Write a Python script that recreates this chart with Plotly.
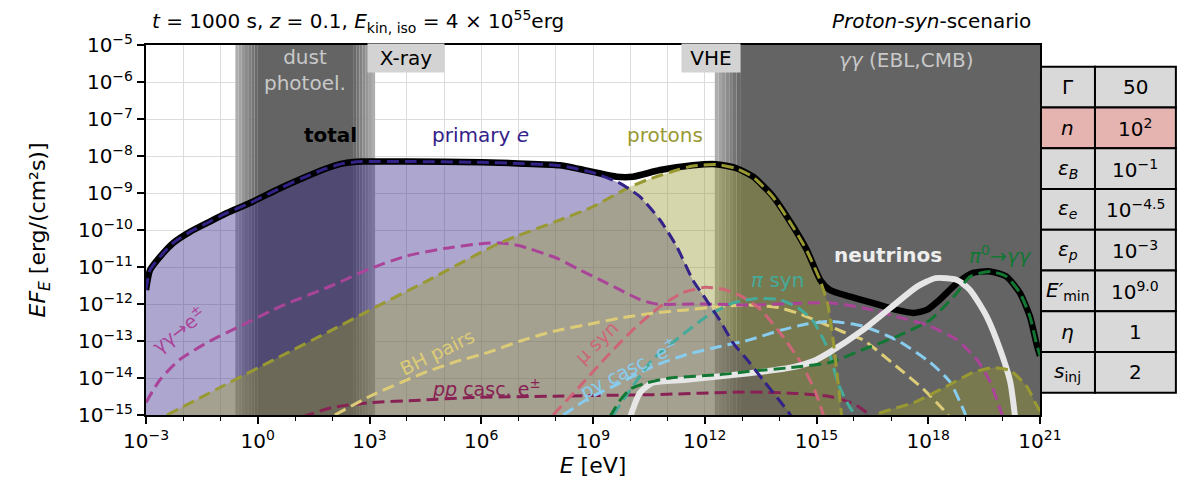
import numpy as np
import plotly.graph_objects as go

# ---------------- data (log10 E [eV], log10 EF_E [erg/cm2/s]) ----------------
total_logE = [-3.0, -2.89, -2.62, -2.27, -1.82, -1.36, -0.83, -0.21, 0.6, 1.2, 1.8, 2.3, 2.8, 4.0, 6.0, 7.0,
              8.11, 9.0, 9.64, 10.07, 10.8, 11.68, 12.3, 12.85, 13.3, 13.84, 14.37, 14.74, 15.1, 15.36, 15.9,
              16.5, 17.15, 17.6, 17.96, 18.3, 18.77, 19.2, 19.66, 20.1, 20.46, 20.73, 20.9, 21.0]
total_logF = [-11.62, -11.08, -10.72, -10.35, -10.05, -9.81, -9.54, -9.27, -8.87, -8.6, -8.35, -8.2, -8.15, -8.15,
              -8.17, -8.2, -8.25, -8.43, -8.56, -8.56, -8.38, -8.25, -8.22, -8.33, -8.56, -9.1, -9.9, -10.54,
              -11.35, -11.62, -11.8, -11.97, -12.16, -12.24, -12.16, -11.89, -11.44, -11.16, -11.12, -11.26,
              -11.7, -12.34, -13.05, -13.4]

primary_logE = [-3.0, -2.89, -2.62, -2.27, -1.82, -1.36, -0.83, -0.21, 0.6, 1.2, 1.8, 2.3, 2.8, 4.0, 6.0, 7.0,
                8.11, 9.0, 9.73, 10.26, 10.8, 11.25, 11.68, 12.05, 12.4, 12.76, 13.2, 13.6, 14.0, 14.3, 14.5]
primary_logF = [-11.62, -11.08, -10.72, -10.35, -10.05, -9.81, -9.54, -9.27, -8.87, -8.6, -8.35, -8.2, -8.15,
                -8.15, -8.17, -8.2, -8.26, -8.45, -8.74, -9.1, -9.73, -10.45, -11.35, -11.9, -12.43, -13.05,
                -13.58, -14.1, -14.6, -15.0, -15.4]

protons_logE = [-2.44, -1.0, 0.6, 2.0, 3.0, 4.5, 6.5, 8.11, 9.0, 9.9, 10.44, 11.07, 11.68, 12.3, 12.85, 13.3,
                13.84, 14.37, 14.74, 15.1, 15.3, 15.45, 15.6, 15.75, 16.1, 16.5, 17.0, 17.6, 18.5, 19.2, 19.74,
                20.2, 20.64, 20.87, 21.0]
protons_logF = [-15.0, -14.25, -13.42, -12.7, -12.17, -11.4, -10.35, -9.73, -9.37, -8.88, -8.65, -8.44, -8.27,
                -8.23, -8.34, -8.57, -9.12, -9.92, -10.56, -11.37, -12.0, -13.0, -14.3, -15.5, -16.2, -15.05,
                -14.85, -14.67, -14.22, -13.85, -13.72, -13.8, -14.22, -14.66, -14.9]

gg_logE = [-3.0, -2.62, -2.09, -1.37, -0.48, 0.6, 2.0, 3.0, 4.0, 5.0, 6.0, 6.5, 7.0, 8.0, 8.65, 9.3, 9.73, 10.26,
           10.7, 12.0, 13.2, 14.5, 15.36, 16.25, 17.15, 18.05, 18.77, 19.3, 19.66, 19.93, 20.05]
gg_logF = [-14.66, -14.04, -13.5, -13.05, -12.6, -12.07, -11.5, -11.05, -10.7, -10.5, -10.37, -10.35, -10.42,
           -10.75, -11.08, -11.4, -11.62, -11.88, -12.0, -12.0, -12.03, -11.98, -11.97, -12.1, -12.34, -12.6,
           -12.97, -13.5, -14.1, -14.85, -15.2]

bh_logE = [2.07, 3.0, 4.36, 5.25, 6.15, 7.05, 7.93, 8.83, 9.73, 10.6, 11.5, 12.4, 13.2, 14.0, 14.5, 15.0, 15.7,
           16.25, 17.15, 17.87, 18.4, 18.6]
bh_logF = [-15.0, -14.5, -13.9, -13.58, -13.32, -13.0, -12.74, -12.56, -12.38, -12.25, -12.16, -12.07, -12.03,
           -12.1, -12.25, -12.45, -12.75, -12.97, -13.69, -14.3, -14.85, -15.1]

pp_logE = [1.2, 2.0, 3.0, 4.36, 5.7, 7.93, 10.6, 13.2, 14.5, 15.36, 16.0, 16.5]
pp_logF = [-15.05, -14.8, -14.67, -14.6, -14.53, -14.49, -14.45, -14.38, -14.42, -14.5, -14.7, -15.05]

musyn_logE = [7.93, 8.65, 9.37, 10.07, 10.8, 11.4, 12.0, 12.5, 13.0, 13.5, 14.0, 14.56, 14.96, 15.2]
musyn_logF = [-15.0, -14.22, -13.42, -12.7, -12.07, -11.7, -11.55, -11.6, -11.8, -12.15, -12.75, -13.55, -14.35,
              -15.05]

pisyn_logE = [9.54, 10.07, 10.6, 11.34, 12.05, 12.76, 13.4, 14.0, 14.5, 14.9, 15.3, 15.6, 15.9, 16.08]
pisyn_logF = [-15.0, -14.22, -13.5, -12.88, -12.34, -11.97, -11.85, -11.88, -12.1, -12.45, -13.2, -14.2, -14.8,
              -15.05]

pgamma_logE = [8.2, 8.83, 9.73, 10.6, 11.5, 12.4, 13.2, 14.0, 14.7, 15.36, 16.25, 17.15, 18.05, 18.58, 18.94,
               19.02]
pgamma_logF = [-15.0, -14.58, -14.13, -13.69, -13.37, -13.15, -12.97, -12.72, -12.55, -12.47, -12.6, -12.97,
               -13.58, -14.1, -14.85, -15.05]

pi0_logE = [9.45, 9.73, 10.0, 10.44, 11.07, 12.4, 13.2, 14.3, 15.36, 16.25, 17.15, 18.05, 18.77, 19.12, 19.66,
            20.1, 20.46, 20.73, 20.9, 21.0]
pi0_logF = [-15.05, -14.6, -14.3, -14.13, -14.0, -13.91, -13.82, -13.72, -13.58, -13.23, -12.88, -12.43, -11.7,
            -11.26, -11.12, -11.26, -11.7, -12.34, -13.05, -13.4]

nu_logE = [10.0, 10.26, 10.6, 11.5, 13.2, 14.3, 14.9, 15.36, 16.25, 17.15, 17.7, 18.2, 18.77, 19.12, 19.57,
           19.93, 20.2, 20.33]
nu_logF = [-15.05, -14.4, -14.13, -14.05, -13.87, -13.72, -13.55, -13.3, -12.7, -11.97, -11.53, -11.3, -11.35,
           -11.62, -12.34, -13.23, -14.1, -15.05]

# shaded bands (log10 E edges) and their soft-edge widths
dust_band = [0.0, 2.56]
dust_fade = [0.6, 0.59]
gamma_band = [12.95, 21.0]
gamma_fade = 0.68

x_tick_exp = list(range(-3, 22, 3))
y_tick_exp = list(range(-15, -4))

param_labels = ["Γ", "<i>n</i>", "<i>ε</i><sub><i>B</i></sub>", "<i>ε</i><sub><i>e</i></sub>",
                "<i>ε</i><sub><i>p</i></sub>", "<i>E′</i><sub>min</sub>", "<i>η</i>", "<i>s</i><sub>inj</sub>"]
param_values = ["50", "10<sup>2</sup>", "10<sup>−1</sup>", "10<sup>−4.5</sup>", "10<sup>−3</sup>",
                "10<sup>9.0</sup>", "1", "2"]
param_highlight = [False, True, False, False, False, False, False, False]

# ---------------- helpers ----------------
FLOOR = 1e-17
CEIL = 1e-3
FONT = "DejaVu Sans"


def lin(v):
    return [10.0 ** a for a in v]


def hexmix(c1, c2, t):
    a = [int(c1[i:i + 2], 16) for i in (1, 3, 5)]
    b = [int(c2[i:i + 2], 16) for i in (1, 3, 5)]
    return "#%02x%02x%02x" % tuple(int(round(a[k] + (b[k] - a[k]) * t)) for k in range(3))


fig = go.Figure()

CORE = "#646464"
EDGE = "#b4b4b4"
NSTEP = 7


def band(x0, x1, color):
    fig.add_trace(go.Scatter(x=lin([x0, x1, x1, x0, x0]), y=[FLOOR, FLOOR, CEIL, CEIL, FLOOR],
                             mode="lines", fill="toself", fillcolor=color, line=dict(width=0),
                             hoverinfo="skip", showlegend=False))


def faded_band(a, b, fl, fr):
    for i in range(NSTEP):
        c = hexmix(EDGE, CORE, (i + 0.5) / NSTEP)
        if fl > 0:
            band(a - fl + i * fl / NSTEP, a - fl + (i + 1) * fl / NSTEP, c)
        if fr > 0:
            band(b + fr - (i + 1) * fr / NSTEP, b + fr - i * fr / NSTEP, c)
    band(a, b, CORE)


faded_band(dust_band[0], dust_band[1], dust_fade[0], dust_fade[1])
faded_band(gamma_band[0], gamma_band[1], gamma_fade, 0)


def filled(logE, logF, color):
    xs = lin(logE)
    fig.add_trace(go.Scatter(x=xs + xs[::-1], y=lin(logF) + [FLOOR] * len(xs), mode="lines",
                             fill="toself", fillcolor=color, line=dict(width=0, shape="spline", smoothing=0.6),
                             hoverinfo="skip", showlegend=False))


filled(primary_logE, primary_logF, "rgba(51,34,136,0.4)")
filled(protons_logE, protons_logF, "rgba(153,153,51,0.4)")


def curve(logE, logF, color, width=3, dash="12px,6px"):
    fig.add_trace(go.Scatter(x=lin(logE), y=lin(logF), mode="lines",
                             line=dict(color=color, width=width, dash=dash, shape="spline", smoothing=0.6),
                             hoverinfo="skip", showlegend=False))


curve(total_logE, total_logF, "black", width=6.5, dash="solid")
curve(pp_logE, pp_logF, "#882255")
curve(bh_logE, bh_logF, "#DDCC77")
curve(gg_logE, gg_logF, "#AA4499")
curve(pgamma_logE, pgamma_logF, "#88CCEE")
curve(musyn_logE, musyn_logF, "#CC6677")
curve(pisyn_logE, pisyn_logF, "#44AA99")
curve(nu_logE, nu_logF, "#e6e6e6", width=6, dash="solid")
curve(pi0_logE, pi0_logF, "#117733")
curve(protons_logE, protons_logF, "#999933")
curve(primary_logE, primary_logF, "#332288")

# ---------------- axes ----------------
fig.update_xaxes(type="log", range=[-3, 21], tickmode="array", tickvals=lin(x_tick_exp),
                 ticktext=["10<sup>%s</sup>" % str(e).replace("-", "−") for e in x_tick_exp],
                 ticks="outside", ticklen=7, tickwidth=1.5, tickcolor="black",
                 showline=True, linecolor="black", linewidth=2, mirror=True,
                 showgrid=True, gridcolor="#dcdcdc", gridwidth=1,
                 minor=dict(tickvals=lin(list(range(-3, 22))), ticks="outside", ticklen=4, tickwidth=1.2,
                            tickcolor="black", showgrid=True, gridcolor="#dcdcdc", gridwidth=1),
                 tickfont=dict(size=20, color="black", family=FONT),
                 title=dict(text="<i>E</i> [eV]", font=dict(size=22, color="black", family=FONT), standoff=6),
                 zeroline=False)
fig.update_yaxes(type="log", range=[-15, -5], tickmode="array", tickvals=lin(y_tick_exp),
                 ticktext=["10<sup>%s</sup>" % str(e).replace("-", "−") for e in y_tick_exp],
                 ticks="outside", ticklen=7, tickwidth=1.5, tickcolor="black",
                 showline=True, linecolor="black", linewidth=2, mirror=True,
                 showgrid=True, gridcolor="#dcdcdc", gridwidth=1,
                 tickfont=dict(size=20, color="black", family=FONT),
                 title=dict(text="<i>EF</i><sub><i>E</i></sub> [erg/(cm²s)]",
                            font=dict(size=22, color="black", family=FONT), standoff=26),
                 zeroline=False)

ann = []


def text(x, y, s, color, size=20, xref="x", yref="y", angle=0, bold=False, xanchor="center",
         yanchor="middle", **kw):
    if bold:
        s = "<b>" + s + "</b>"
    ann.append(dict(x=x, y=y, xref=xref, yref=yref, text=s, showarrow=False, textangle=angle,
                    xanchor=xanchor, yanchor=yanchor,
                    font=dict(size=size, color=color, family=FONT), **kw))


# titles
text(0.004, 1.063, "<i>t</i> = 1000 s, <i>z</i> = 0.1, <i>E</i><sub>kin, iso</sub> = 4 × 10<sup>55</sup>erg",
     "black", size=20, xref="paper", yref="paper", xanchor="left")
text(0.992, 1.066, "<i>Proton-syn</i>-scenario", "black", size=20, xref="paper", yref="paper",
     xanchor="right")

# band labels
text(1.27, 0.932, "dust<br>photoel.", "#c8c8c8", size=20, yref="paper")
text(3.98, 0.966, "X-ray", "black", size=20, yref="paper", bgcolor="#d3d3d3", width=74, height=26)
text(12.17, 0.966, "VHE", "black", size=20, yref="paper", bgcolor="#d3d3d3", width=56, height=26)
text(17.4, 0.959, "<i>γγ</i> (EBL,CMB)", "#c8c8c8", size=20, yref="paper")

# curve labels
text(1.94, -7.44, "total", "black", size=20, bold=True)
text(5.97, -7.44, "primary <i>e</i>", "#332288", size=20)
text(10.93, -7.44, "protons", "#999933", size=20)
text(-2.12, -12.68, "γγ→e<sup>±</sup>", "#AA4499", size=19, angle=-37)
text(4.82, -13.29, "BH pairs", "#DDCC77", size=19, angle=-26)
text(6.15, -14.26, "<i>pp</i> casc. e<sup>±</sup>", "#882255", size=19)
text(9.1, -13.04, "μ syn", "#CC6677", size=19, angle=-44)
text(9.94, -13.72, "pγ casc. e<sup>±</sup>", "#88CCEE", size=19, angle=-27)
text(13.94, -11.35, "<i>π</i> syn", "#44AA99", size=20)
text(16.92, -10.68, "neutrinos", "#eeeeee", size=20, bold=True)
text(19.93, -10.68, "<i>π</i><sup>0</sup>→<i>γγ</i>", "#117733", size=20)

# parameter table
shapes = []
tx0, txm, tx1 = 1.0011, 1.0615, 1.152
ty_top, ty_bot = 0.9414, 0.0603
rh = (ty_top - ty_bot) / len(param_labels)
for i, (lab, val, hl) in enumerate(zip(param_labels, param_values, param_highlight)):
    y1 = ty_top - i * rh
    y0 = y1 - rh
    fc = "#e6b4b0" if hl else "#d9d9d9"
    for (a, b) in ((tx0, txm), (txm, tx1)):
        shapes.append(dict(type="rect", xref="paper", yref="paper", x0=a, x1=b, y0=y0, y1=y1,
                           fillcolor=fc, line=dict(color="black", width=2), layer="above"))
    text((tx0 + txm) / 2, (y0 + y1) / 2, lab, "black", size=20, xref="paper", yref="paper")
    text((txm + tx1) / 2, (y0 + y1) / 2, val, "black", size=20, xref="paper", yref="paper")

# the page body adds an 8 px offset, so the margins are shifted to compensate
fig.update_layout(width=1185, height=492, margin=dict(l=138, r=153, t=37, b=85),
                  plot_bgcolor="white", paper_bgcolor="white", showlegend=False,
                  annotations=ann, shapes=shapes, font=dict(family=FONT))

fig.write_html("out.html")
